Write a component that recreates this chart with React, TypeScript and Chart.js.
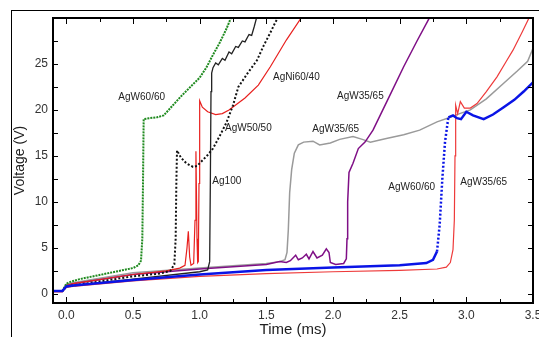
import React, { useEffect, useRef } from "react";
import { Chart, registerables } from "chart.js";

Chart.register(...registerables);

// ---- tick values ----
const xTickValues = [0, 0.5, 1, 1.5, 2, 2.5, 3, 3.5];
const yTickValues = [0, 5, 10, 15, 20, 25];
const xMinorStep = 0.25;
const yMinorStep = 2.5;

type P = [number, number];

// ---- series (time ms, voltage V) ----
const blueAgW6060: P[] = [
  [-0.1, 0.3], [-0.03, 0.3], [0.0, 0.8], [0.05, 0.9], [0.5, 1.5], [1.0, 2.1], [1.5, 2.6],
  [2.0, 2.85], [2.5, 3.1], [2.7, 3.35], [2.75, 3.7], [2.78, 4.6], [2.8, 7.5], [2.82, 12.5],
  [2.84, 16.5], [2.865, 19.2], [2.9, 19.4], [2.93, 19.1], [2.96, 19.0], [3.0, 19.8],
  [3.05, 19.4], [3.13, 19.0], [3.2, 19.5], [3.28, 20.3], [3.36, 21.1], [3.43, 22], [3.5, 23],
];

const greenAgW6060: P[] = [
  [-0.1, 0.3], [-0.03, 0.3], [0.0, 1.1], [0.03, 1.3], [0.1, 1.6], [0.3, 2.2], [0.5, 2.8],
  [0.54, 3.1], [0.56, 3.6], [0.57, 6], [0.575, 12], [0.58, 19.0], [0.62, 19.1], [0.68, 19.2],
  [0.73, 19.4], [0.78, 20.2], [0.855, 21.4], [0.93, 22.5], [1.0, 23.5], [1.05, 24.6],
  [1.1, 26], [1.15, 27.3], [1.2, 28.8], [1.24, 30.2],
];

const blackAg100: P[] = [
  [-0.1, 0.3], [-0.03, 0.3], [0.0, 0.8], [0.05, 0.9], [0.5, 1.6], [1.0, 2.4], [1.06, 2.6],
  [1.075, 3.5], [1.08, 12], [1.085, 22], [1.09, 24], [1.1, 24.6], [1.12, 25.1], [1.14, 24.9],
  [1.17, 25.6], [1.19, 25.4], [1.22, 26.3], [1.24, 26.1], [1.27, 26.9], [1.29, 26.8],
  [1.32, 27.5], [1.34, 27.4], [1.37, 28.2], [1.39, 28.1], [1.41, 29.1], [1.43, 30.2],
];

const blackAgW5050: P[] = [
  [-0.1, 0.3], [-0.03, 0.3], [0.0, 0.8], [0.05, 0.9], [0.5, 1.9], [0.7, 2.2], [0.78, 2.5],
  [0.81, 3.2], [0.82, 6], [0.825, 12], [0.83, 15.6], [0.86, 14.8], [0.9, 14.2], [0.95, 13.8],
  [0.98, 13.9], [1.02, 14.5], [1.06, 15.1], [1.1, 15.8], [1.155, 17.3], [1.2, 18.6],
  [1.25, 20.5], [1.29, 22.5], [1.36, 24], [1.43, 25.4], [1.48, 27], [1.53, 28.4],
  [1.57, 29.6], [1.6, 30.3],
];

const redAgNi6040: P[] = [
  [-0.1, 0.3], [-0.03, 0.3], [0.0, 0.9], [0.05, 1.1], [0.5, 2.1], [0.75, 2.5], [0.85, 2.8],
  [0.89, 3.1], [0.905, 5], [0.915, 6.8], [0.925, 4], [0.935, 3.1], [0.955, 3.3], [0.965, 8],
  [0.972, 15.5], [0.98, 6], [0.985, 3.4], [0.99, 3.5], [0.995, 12], [1.0, 21], [1.02, 20.3],
  [1.06, 19.8], [1.12, 19.5], [1.17, 19.6], [1.22, 20.0], [1.34, 21.3], [1.44, 22.7],
  [1.53, 24.7], [1.65, 27.6], [1.77, 30.2],
];

const grayAgW3565: P[] = [
  [-0.1, 0.3], [-0.03, 0.3], [0.0, 1.0], [0.05, 1.2], [0.5, 2.3], [1.0, 2.8], [1.5, 3.3],
  [1.6, 3.5], [1.64, 3.7], [1.655, 4.5], [1.665, 7], [1.675, 11], [1.69, 13.5], [1.71, 15.3],
  [1.74, 16.2], [1.78, 16.5], [1.85, 16.6], [1.9, 16.2], [1.98, 16.4], [2.05, 16.8],
  [2.15, 17.1], [2.22, 16.8], [2.28, 16.5], [2.4, 16.9], [2.53, 17.3], [2.65, 17.8],
  [2.78, 18.7], [2.88, 19.2], [2.95, 19.6], [3.03, 20], [3.15, 21.2], [3.28, 22.9],
  [3.38, 24.2], [3.46, 25.3], [3.5, 26.7],
];

const purpleAgW3565: P[] = [
  [-0.1, 0.3], [-0.03, 0.3], [0.0, 0.9], [0.05, 1.1], [0.5, 2.1], [1.0, 2.7], [1.5, 3.2],
  [1.6, 3.5], [1.65, 3.4], [1.68, 3.6], [1.72, 4.2], [1.74, 3.7], [1.77, 3.9], [1.8, 4.3],
  [1.82, 3.8], [1.85, 4.6], [1.88, 3.9], [1.92, 4.2], [1.95, 4.9], [1.97, 4.5], [1.98, 3.4],
  [2.02, 3.2], [2.08, 3.3], [2.1, 3.8], [2.105, 6], [2.11, 10], [2.12, 13.2], [2.15, 14.2],
  [2.19, 15.8], [2.24, 16.5], [2.3, 17.8], [2.41, 21.1], [2.53, 24.7], [2.63, 27.5],
  [2.73, 30.2],
];

const red2AgW3565: P[] = [
  [-0.1, 0.2], [-0.03, 0.2], [0.0, 0.7], [0.05, 0.8], [0.5, 1.4], [1.0, 1.9], [1.5, 2.2],
  [2.0, 2.4], [2.5, 2.55], [2.78, 2.7], [2.85, 2.9], [2.88, 3.4], [2.9, 4.8], [2.91, 8],
  [2.915, 15], [2.92, 20.5], [2.935, 19.6], [2.955, 20.9], [2.985, 20.2], [3.03, 20.2],
  [3.08, 20.7], [3.15, 22], [3.23, 23.6], [3.3, 25.3], [3.35, 26.5], [3.42, 28.5],
  [3.47, 30], [3.5, 30.8],
];

// ---- curve labels (text, time, voltage) ----
const curveLabels: { text: string; t: number; v: number }[] = [
  { text: "AgW60/60", t: 0.39, v: 21.4 },
  { text: "AgW50/50", t: 1.19, v: 18.0 },
  { text: "AgNi60/40", t: 1.55, v: 23.6 },
  { text: "AgW35/65", t: 2.03, v: 21.5 },
  { text: "AgW35/65", t: 1.845, v: 17.9 },
  { text: "Ag100", t: 1.095, v: 12.2 },
  { text: "AgW60/60", t: 2.415, v: 11.6 },
  { text: "AgW35/65", t: 2.955, v: 12.1 },
];

const FONT = "'Liberation Sans', Arial, sans-serif";

const toXY = (arr: P[]) => arr.map(([x, y]) => ({ x, y }));

const steepDash = (dash: number[]) => (ctx: any) => {
  const dx = Math.abs(ctx.p1.x - ctx.p0.x);
  const dy = Math.abs(ctx.p1.y - ctx.p0.y);
  return dy > 4 * dx ? dash : undefined;
};

const framePlugin = {
  id: "framePlugin",
  beforeDraw(chart: any) {
    const ctx = chart.ctx;
    ctx.save();
    ctx.fillStyle = "#ffffff";
    ctx.fillRect(0, 0, chart.width, chart.height);
    ctx.strokeStyle = "#000";
    ctx.lineWidth = 1;
    ctx.strokeRect(11.5, 10.5, 600, 400);
    ctx.restore();
  },
  afterDraw(chart: any) {
    const ctx = chart.ctx;
    const { left, right, top, bottom } = chart.chartArea;
    const xs = chart.scales.x;
    const ys = chart.scales.y;
    ctx.save();
    ctx.strokeStyle = "#000";
    ctx.lineWidth = 1;
    for (let v = 0; v <= 3.5 + 1e-9; v += xMinorStep) {
      const px = Math.round(xs.getPixelForValue(v)) + 0.5;
      const major = Math.abs(v / 0.5 - Math.round(v / 0.5)) < 1e-6;
      const len = major ? 6 : 4;
      ctx.beginPath();
      ctx.moveTo(px, bottom);
      ctx.lineTo(px, bottom - len);
      ctx.moveTo(px, top);
      ctx.lineTo(px, top + len);
      ctx.stroke();
    }
    for (let v = 0; v <= 27.5 + 1e-9; v += yMinorStep) {
      const py = Math.round(ys.getPixelForValue(v)) + 0.5;
      ctx.beginPath();
      ctx.moveTo(left, py);
      ctx.lineTo(left + 5, py);
      ctx.moveTo(right, py);
      ctx.lineTo(right - 5, py);
      ctx.stroke();
    }
    ctx.lineWidth = 2;
    ctx.strokeRect(left, top, right - left, bottom - top);
    ctx.restore();
  },
  afterDatasetsDraw(chart: any) {
    const ctx = chart.ctx;
    const xs = chart.scales.x;
    const ys = chart.scales.y;
    ctx.save();
    ctx.font = `10px ${FONT}`;
    ctx.fillStyle = "#222";
    ctx.textAlign = "left";
    ctx.textBaseline = "middle";
    curveLabels.forEach((l) => {
      ctx.fillText(l.text, xs.getPixelForValue(l.t), ys.getPixelForValue(l.v));
    });
    ctx.restore();
  },
};

export default function App() {
  const ref = useRef<HTMLCanvasElement | null>(null);

  useEffect(() => {
    if (!ref.current) return;
    const mk = (
      data: P[],
      color: string,
      width: number,
      dash?: number[],
      steep?: number[]
    ) => ({
      data: toXY(data),
      borderColor: color,
      backgroundColor: color,
      borderWidth: width,
      borderDash: dash || [],
      pointRadius: 0,
      fill: false,
      tension: 0,
      segment: steep ? { borderDash: steepDash(steep) } : undefined,
    });

    const chart = new Chart(ref.current, {
      type: "line",
      data: {
        datasets: [
          mk(blueAgW6060, "#0a14e6", 2.5, undefined, [2, 2]),
          mk(greenAgW6060, "#1f8a1f", 2, [2, 1]),
          mk(blackAgW5050, "#111", 2, [2, 2]),
          mk(blackAg100, "#222", 1.3),
          mk(redAgNi6040, "#e8201e", 1.2),
          mk(red2AgW3565, "#ee3a3a", 1.2),
          mk(purpleAgW3565, "#7f0f86", 1.5),
          mk(grayAgW3565, "#9a9a9a", 1.5),
        ] as any,
      },
      options: {
        animation: false,
        responsive: false,
        devicePixelRatio: 1,
        layout: { padding: { top: 18, right: 6, left: 0, bottom: 0 } },
        plugins: { legend: { display: false }, tooltip: { enabled: false } },
        scales: {
          x: {
            type: "linear",
            min: -0.1,
            max: 3.5,
            grid: { display: false, drawTicks: false },
            border: { display: false },
            afterBuildTicks: (s: any) => {
              s.ticks = xTickValues.map((value) => ({ value }));
            },
            afterFit: (s: any) => {
              s.height = 34;
              s.paddingLeft = 0;
              s.paddingRight = 0;
            },
            ticks: {
              padding: 5,
              maxRotation: 0,
              autoSkip: false,
              color: "#333",
              font: { family: FONT, size: 12 },
              callback: (v: any) => Number(v).toFixed(1),
            },
            title: {
              display: true,
              text: "Time (ms)",
              color: "#222",
              font: { family: FONT, size: 15, lineHeight: 1 },
              padding: { top: 0, bottom: 0 },
            },
          },
          y: {
            type: "linear",
            min: -1,
            max: 30,
            grid: { display: false, drawTicks: false },
            border: { display: false },
            afterBuildTicks: (s: any) => {
              s.ticks = yTickValues.map((value) => ({ value }));
            },
            afterFit: (s: any) => {
              s.width = 53;
              s.paddingTop = 0;
              s.paddingBottom = 0;
            },
            ticks: {
              padding: 5,
              autoSkip: false,
              color: "#333",
              font: { family: FONT, size: 12 },
              callback: (v: any) => String(v),
            },
            title: {
              display: true,
              text: "Voltage (V)",
              color: "#222",
              font: { family: FONT, size: 14, lineHeight: 1 },
              padding: { top: 13, bottom: 0 },
            },
          },
        },
      },
      plugins: [framePlugin],
    } as any);
    return () => chart.destroy();
  }, []);

  return (
    <div
      style={{
        position: "fixed",
        left: 0,
        top: 0,
        width: 539,
        height: 337,
        overflow: "hidden",
        background: "#fff",
      }}
    >
      <canvas
        ref={ref}
        width={539}
        height={337}
        style={{ display: "block", width: 539, height: 337 }}
      />
    </div>
  );
}
